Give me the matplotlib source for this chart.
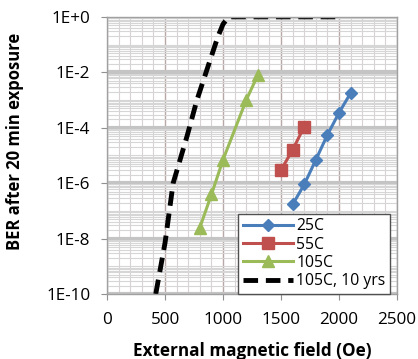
import numpy as np
import matplotlib.pyplot as plt
from matplotlib.ticker import FixedLocator, MultipleLocator, NullFormatter

# BER vs external field
x_25 = [1600, 1700, 1800, 1900, 2000, 2100]
ber_25 = [1.7e-7, 9e-7, 7e-6, 5.6e-5, 3.5e-4, 1.8e-3]

x_55 = [1500, 1600, 1700]
ber_55 = [3e-6, 1.6e-5, 1.1e-4]

x_105 = [800, 900, 1000, 1200, 1300]
ber_105 = [2.5e-8, 3.9e-7, 7e-6, 1e-3, 8e-3]

x_10y = [420, 500, 570, 690, 775, 860, 955, 1000, 1050, 1100, 1500, 2000]
ber_10y = [1e-10, 7e-9, 1e-6, 5e-5, 1e-3, 1.2e-2, 0.19, 0.55, 1, 1, 1, 1]

y_ticks = [1e-10, 1e-8, 1e-6, 1e-4, 1e-2, 1]
y_labels = ['1E-10', '1E-8', '1E-6', '1E-4', '1E-2', '1E+0']

plt.rcParams['font.family'] = ['Open Sans', 'DejaVu Sans']

fig = plt.figure(figsize=(4.18, 3.59), dpi=100)
ax = fig.add_axes([0.256, 0.181, 0.694, 0.772])

ax.set_yscale('log')
ax.set_xlim(0, 2500)
ax.set_ylim(1e-10, 1)

ax.yaxis.set_major_locator(FixedLocator(y_ticks))
minor_y = [m * 10.0 ** e for e in range(-10, 0) for m in range(1, 10) if not (m == 1 and e % 2 == 0)]
ax.yaxis.set_minor_locator(FixedLocator(minor_y))
ax.yaxis.set_minor_formatter(NullFormatter())
ax.set_yticklabels(y_labels)
ax.xaxis.set_major_locator(MultipleLocator(500))
ax.xaxis.set_minor_locator(MultipleLocator(100))

ax.grid(which='major', axis='y', color='#c4c4c4', linewidth=3)
ax.grid(which='minor', axis='y', color='#d6d6d6', linewidth=0.8)
ax.grid(which='major', axis='x', color='#b8a8a8', linewidth=1.0)
ax.grid(which='minor', axis='x', color='#d9d2d2', linewidth=0.8)
ax.set_axisbelow(True)

ax.tick_params(which='major', direction='out', length=4, color='#909090',
               labelsize=12.3)
ax.tick_params(axis='y', pad=8)
ax.tick_params(axis='x', pad=9)
ax.tick_params(which='minor', length=0)
for s in ax.spines.values():
    s.set_color('#a0a0a0')
    s.set_linewidth(1)

ax.plot(x_25, ber_25, color='#4a7ebb', lw=2.2, marker='D', ms=6.5, label='25C')
ax.plot(x_55, ber_55, color='#c0504d', lw=2.2, marker='s', ms=8, label='55C')
ax.plot(x_105, ber_105, color='#9bbb59', lw=2.2, marker='^', ms=8.5, label='105C')
ax.plot(x_10y, ber_10y, color='black', lw=3.5, dashes=(3, 1.6), label='105C, 10 yrs')

ax.set_xlabel('External magnetic field (Oe)', fontsize=12.3, fontweight='bold')
ax.set_ylabel('BER after 20 min exposure', fontsize=12, fontweight='bold')
ax.xaxis.set_label_coords(0.5, -0.172)
ax.yaxis.set_label_coords(-0.285, 0.55)

leg = ax.legend(loc='lower right', bbox_to_anchor=(0.976, 0), borderaxespad=0,
                fontsize=11.3, handlelength=3.2, labelspacing=0.15,
                handletextpad=0.2, borderpad=0.3, fancybox=False, framealpha=1)
leg.get_frame().set_edgecolor('#505050')
leg.get_frame().set_linewidth(1)

fig.savefig('out.png', dpi=100)
